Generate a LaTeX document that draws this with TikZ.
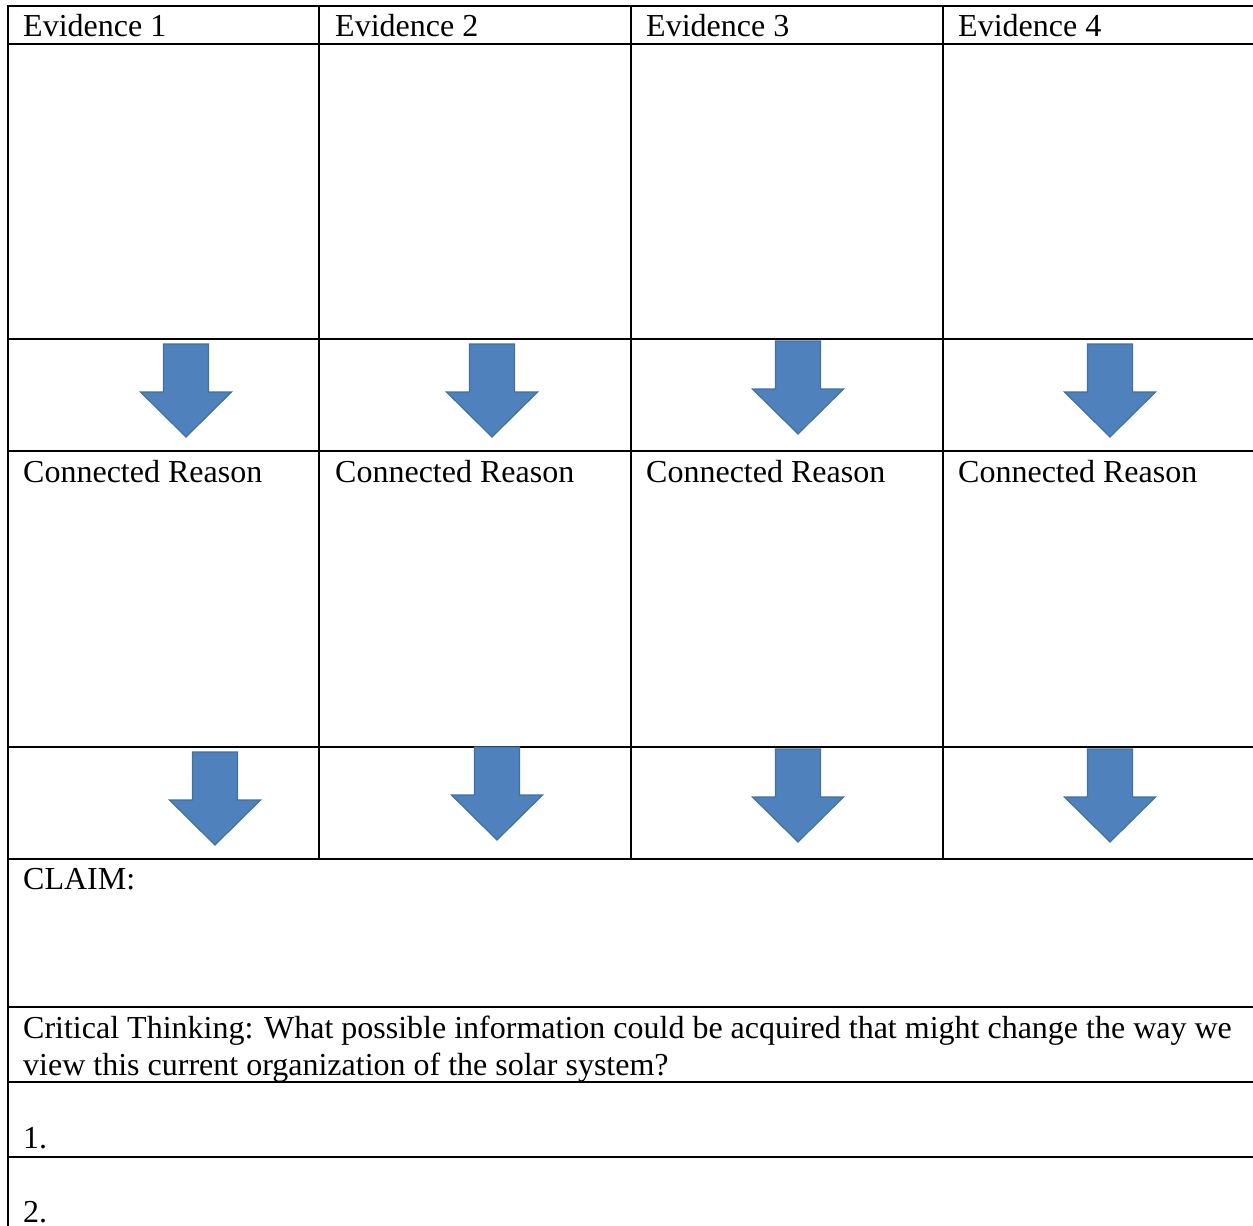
\documentclass[tikz,border=0pt]{standalone}
\usepackage{fontspec}
\setmainfont{Liberation Serif}
\definecolor{arrowfill}{HTML}{4F81BD}
\definecolor{arrowedge}{HTML}{41719C}
\begin{document}
\begin{tikzpicture}[x=1pt,y=-1pt,
  rule/.style={line width=2.6pt,line cap=rect},
  celltext/.style={anchor=base west,inner sep=0pt,font=\fontsize{32}{37}\selectfont},
  downarrow/.pic={\draw[fill=arrowfill,draw=arrowedge,line width=1.2pt,line join=miter]
    (-22.5,0) -- (-22.5,48) -- (-45.5,48) -- (0,93) -- (45.5,48) -- (22.5,48) -- (22.5,0) -- cycle;}]
\useasboundingbox (0,0) rectangle (1253,1226);
\fill[white] (0,0) rectangle (1253,1226);
% horizontal rules
\foreach \y in {6,44,339,451,747,859,1007,1082,1157}
  \draw[rule] (8,\y) -- (1256,\y);
% left border
\draw[rule] (8,6) -- (8,1230);
% column rules
\foreach \x in {319,631,943}
  \draw[rule] (\x,6) -- (\x,859);
% header texts
\node[celltext] (e1) at (23,36) {Evidence 1};
\node[celltext] (e2) at (335,36) {Evidence 2};
\node[celltext] (e3) at (646,36) {Evidence 3};
\node[celltext] (e4) at (958,36) {Evidence 4};
\node[celltext] (r1) at (23,482) {Connected Reason};
\node[celltext] (r2) at (335,482) {Connected Reason};
\node[celltext] (r3) at (646,482) {Connected Reason};
\node[celltext] (r4) at (958,482) {Connected Reason};
\node[celltext] (claim) at (23,889) {CLAIM:};
\node[celltext] (ct1) at (23,1038) {Critical Thinking: What possible information could be acquired that might change the way we};
\node[celltext] (ct2) at (23,1075) {view this current organization of the solar system?};
\node[celltext] (n1) at (23,1148) {1.};
\node[celltext] (n2) at (23,1222) {2.};
% arrows row 1
\pic at (186,344) {downarrow};
\pic at (492,344) {downarrow};
\pic at (798,341) {downarrow};
\pic at (1110,344) {downarrow};
% arrows row 2
\pic at (215,752) {downarrow};
\pic at (497,747) {downarrow};
\pic at (798,749) {downarrow};
\pic at (1110,749) {downarrow};
\end{tikzpicture}
\end{document}
